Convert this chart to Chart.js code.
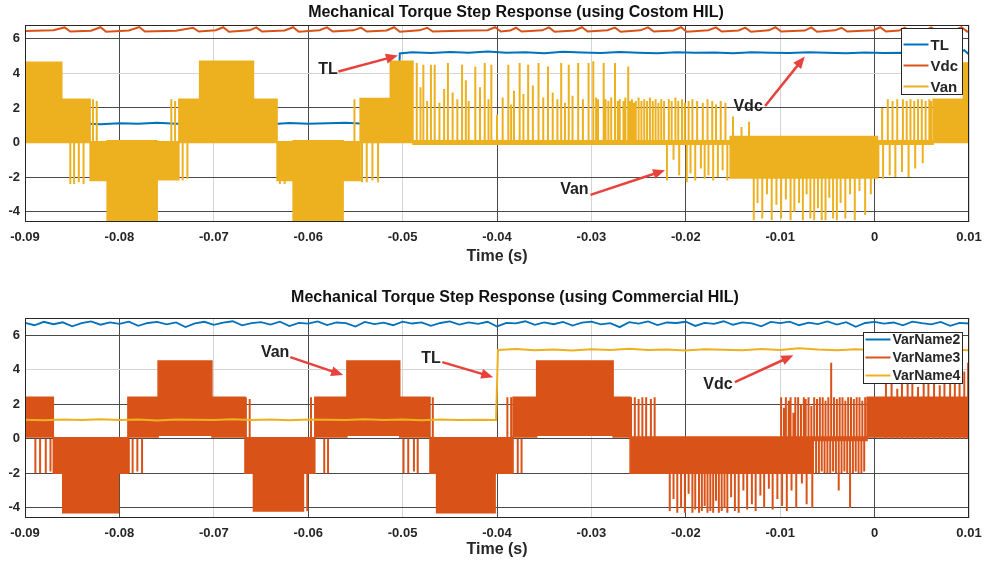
<!DOCTYPE html>
<html>
<head>
<meta charset="utf-8">
<script src="https://cdn.jsdelivr.net/npm/chart.js@4.4.1/dist/chart.umd.min.js"></script>
<style>
  body { margin: 0; background: #fff; }
  #wrap { position: relative; width: 984px; height: 570px; }
  .box { position: absolute; left: 0; width: 984px; }
</style>
</head>
<body>
<div id="wrap">
  <div class="box" style="top:0;height:275px"><canvas id="topChart"></canvas></div>
  <div class="box" style="top:275px;height:295px"><canvas id="bottomChart"></canvas></div>
</div>
<script>
// ---- axes ----
const xTicks = [-0.09, -0.08, -0.07, -0.06, -0.05, -0.04, -0.03, -0.02, -0.01, 0, 0.01];
const xTickLabels = ["-0.09", "-0.08", "-0.07", "-0.06", "-0.05", "-0.04", "-0.03", "-0.02", "-0.01", "0", "0.01"];
const yTicks = [-4, -2, 0, 2, 4, 6];

// ---- top plot (custom HIL) ----
const topNames = ["TL", "Vdc", "Van"];

const tlTime = [-0.090, -0.088, -0.086, -0.084, -0.082, -0.080, -0.078, -0.076, -0.074, -0.072,
  -0.070, -0.068, -0.066, -0.064, -0.062, -0.060, -0.058, -0.056, -0.054, -0.052,
  -0.0505, -0.0503,
  -0.049, -0.047, -0.045, -0.043, -0.041, -0.039, -0.037, -0.035, -0.033, -0.031,
  -0.029, -0.027, -0.025, -0.023, -0.021, -0.019, -0.017, -0.015, -0.013, -0.011,
  -0.009, -0.007, -0.005, -0.003, -0.001, 0.001, 0.003, 0.005, 0.007, 0.009,
  0.0095, 0.010];
const tlValue = [1.10, 1.08, 1.13, 1.10, 1.05, 1.12, 1.09, 1.14, 1.08, 1.11,
  1.07, 1.12, 1.10, 1.06, 1.13, 1.08, 1.11, 1.14, 1.09, 1.11,
  1.10, 5.15,
  5.22, 5.18, 5.24, 5.20, 5.26, 5.19, 5.23, 5.17, 5.25, 5.21,
  5.18, 5.24, 5.20, 5.16, 5.22, 5.19, 5.21, 5.17, 5.23, 5.20,
  5.18, 5.22, 5.19, 5.17, 5.21, 5.18, 5.20, 5.16, 5.21, 5.19,
  5.34, 5.10];

const vdcTime = [-0.0900, -0.0870, -0.0858, -0.0852, -0.0830, -0.0820, -0.0814, -0.0790, -0.0779, -0.0773,
  -0.0740, -0.0722, -0.0716, -0.0698, -0.0690, -0.0684, -0.0662, -0.0655, -0.0649, -0.0625,
  -0.0616, -0.0610, -0.0588, -0.0580, -0.0574, -0.0552, -0.0544, -0.0538, -0.0517, -0.0509,
  -0.0503, -0.0482, -0.0474, -0.0468, -0.0440, -0.0410, -0.0402, -0.0396, -0.0386, -0.0380,
  -0.0374, -0.0352, -0.0345, -0.0339, -0.0318, -0.0310, -0.0304, -0.0283, -0.0275, -0.0269,
  -0.0248, -0.0240, -0.0234, -0.0213, -0.0205, -0.0199, -0.0176, -0.0168, -0.0162, -0.0144,
  -0.0137, -0.0131, -0.0112, -0.0105, -0.0099, -0.0074, -0.0067, -0.0061, -0.0042, -0.0035,
  -0.0029, -0.0001, 0.0006, 0.0012, 0.0026, 0.0032, 0.0038, 0.0054, 0.0060, 0.0066,
  0.0085, 0.0092, 0.0098, 0.0100];
const vdcValue = [6.46, 6.50, 6.66, 6.42, 6.47, 6.67, 6.41, 6.48, 6.68, 6.42,
  6.47, 6.64, 6.42, 6.50, 6.67, 6.41, 6.49, 6.66, 6.42, 6.48,
  6.67, 6.41, 6.50, 6.66, 6.42, 6.49, 6.65, 6.42, 6.48, 6.67,
  6.41, 6.49, 6.64, 6.42, 6.47, 6.50, 6.67, 6.42, 6.48, 6.64,
  6.42, 6.49, 6.66, 6.41, 6.48, 6.67, 6.42, 6.50, 6.65, 6.41,
  6.49, 6.66, 6.42, 6.48, 6.67, 6.41, 6.50, 6.66, 6.42, 6.48,
  6.65, 6.41, 6.49, 6.67, 6.42, 6.48, 6.66, 6.41, 6.49, 6.64,
  6.42, 6.50, 6.67, 6.42, 6.48, 6.65, 6.41, 6.49, 6.66, 6.42,
  6.50, 6.68, 6.42, 6.44];

// Van: dense switching bands (start, end, low, high) + isolated switching spikes
const vanBandStart = [-0.0900, -0.0861, -0.0831, -0.0813, -0.0760, -0.0737, -0.0715, -0.0658, -0.0633, -0.0616,
  -0.0563, -0.0545, -0.0513, -0.0489, -0.0153, 0.0003, 0.0062, 0.0094];
const vanBandEnd = [-0.0861, -0.0831, -0.0813, -0.0760, -0.0737, -0.0715, -0.0658, -0.0633, -0.0616, -0.0563,
  -0.0545, -0.0513, -0.0489, -0.0153, 0.0003, 0.0062, 0.0094, 0.0100];
const vanBandLow = [0.0, 0.0, -2.2, -4.5, -2.15, 0.0, 0.0, 0.0, -2.2, -4.5,
  -2.2, 0.0, 0.0, -0.1, -2.05, -0.1, 0.0, 0.0];
const vanBandHigh = [4.65, 2.5, 0.05, 0.1, 0.05, 2.5, 4.7, 2.5, 0.05, 0.1,
  0.05, 2.55, 4.7, 0.1, 0.35, 0.1, 2.5, 4.6];

const vanSpikeTime = [-0.0852, -0.0848, -0.0843, -0.0838, -0.0828, -0.0824, -0.0745, -0.0741, -0.0733, -0.0728,
  -0.0663, -0.0640, -0.0636, -0.0630, -0.0625, -0.0551, -0.0543, -0.0538, -0.0532, -0.0526,
  -0.0485, -0.0481, -0.0478, -0.0474, -0.0470, -0.0466, -0.0461, -0.0456, -0.0452, -0.0447,
  -0.0442, -0.0437, -0.0433, -0.0430, -0.0423, -0.0418, -0.0413, -0.0409, -0.0406, -0.0400,
  -0.0394, -0.0388, -0.0385, -0.0382, -0.0376, -0.0372, -0.0367, -0.0362, -0.0356, -0.0351,
  -0.0346, -0.0341, -0.0336, -0.0332, -0.0328, -0.0324, -0.0320, -0.0314, -0.0309, -0.0303,
  -0.0298, -0.0295, -0.0293, -0.0287, -0.0285, -0.0282, -0.0279, -0.0275, -0.0272, -0.0270,
  -0.0266, -0.0264, -0.0261, -0.0259, -0.0257, -0.0255, -0.0253, -0.0250, -0.0247, -0.0244,
  -0.0241, -0.0238, -0.0235, -0.0232, -0.0229, -0.0226, -0.0223, -0.0220, -0.0218, -0.0215,
  -0.0213, -0.0211, -0.0208, -0.0207, -0.0204, -0.0201, -0.0199, -0.0197, -0.0195, -0.0193,
  -0.0190, -0.0188, -0.0184, -0.0182, -0.0180, -0.0177, -0.0176, -0.0172, -0.0171, -0.0168,
  -0.0166, -0.0163, -0.0161, -0.0158, -0.0156, -0.0150, -0.0141, -0.0133, -0.0128, -0.0124,
  -0.0119, -0.0114, -0.0109, -0.0104, -0.0099, -0.0094, -0.0089, -0.0085, -0.0080, -0.0076,
  -0.0072, -0.0068, -0.0064, -0.0060, -0.0056, -0.0052, -0.0048, -0.0044, -0.0040, -0.0036,
  -0.0031, -0.0026, -0.0021, -0.0016, -0.0010, -0.0004, 0.0004, 0.0008, 0.0009, 0.0014,
  0.0016, 0.0019, 0.0022, 0.0024, 0.0029, 0.0030, 0.0034, 0.0036, 0.0038, 0.0042,
  0.0043, 0.0046, 0.0050, 0.0051, 0.0054, 0.0058, 0.0060];
const vanSpikeValue = [-2.4, -2.4, -2.3, -2.4, 2.5, 2.4, 2.5, 2.4, -2.2, -2.1,
  4.6, 2.5, 2.4, -2.4, -2.4, 2.5, -2.3, -2.3, -2.2, -2.3,
  4.6, 3.2, 4.5, 2.4, 4.5, 4.5, 2.3, 3.1, 4.6, 2.9,
  2.5, 4.5, 3.6, 2.4, 4.4, 3.2, 4.6, 2.5, 4.5, 1.6,
  2.6, 4.5, 2.2, 3.0, 4.6, 2.8, 4.5, 3.3, 4.6, 2.6,
  4.4, 2.9, 2.5, 4.6, 2.3, 4.5, 2.7, 4.6, 2.5, 4.6,
  4.7, 2.6, 2.5, 4.6, 2.5, 2.4, 2.6, 4.6, 2.4, 2.5,
  2.4, 2.6, 4.4, 2.4, 2.5, 2.3, 2.4, 2.6, 2.4, 2.5,
  2.4, 2.6, 2.4, 2.5, 2.3, 2.5, 2.4, -2.2, 2.5, 2.4,
  -1.0, 2.6, 2.4, -1.9, 2.5, 2.3, -2.3, 2.4, -1.8, 2.5,
  -2.2, 2.4, -1.5, 2.3, -2.1, 2.5, -1.9, 2.4, -2.2, 2.2,
  -2.0, 2.4, -1.6, 2.3, -2.2, 1.5, 0.9, 1.2, -4.5, -3.5,
  -4.4, -3.0, -4.5, -3.6, -4.4, -3.3, -4.5, -4.0, -3.5, -4.5,
  -3.0, -4.4, -4.5, -3.8, -4.5, -4.5, -3.2, -4.4, -4.5, -3.5,
  -4.4, -3.0, -4.5, -2.8, -4.2, -3.0, -2.0, 2.0, -2.1, 2.5,
  -1.9, 2.4, -2.0, 2.5, -1.7, 2.5, 2.4, -2.0, 2.5, 2.4,
  -1.5, 2.5, 2.5, -1.2, 2.4, 2.5, 2.4];

// ---- bottom plot (commercial HIL) ----
const bottomNames = ["VarName2", "VarName3", "VarName4"];

const sampleTime = [-0.090, -0.089, -0.088, -0.087, -0.086, -0.085, -0.084, -0.083, -0.082, -0.081,
  -0.080, -0.079, -0.078, -0.077, -0.076, -0.075, -0.074, -0.073, -0.072, -0.071,
  -0.070, -0.069, -0.068, -0.067, -0.066, -0.065, -0.064, -0.063, -0.062, -0.061,
  -0.060, -0.059, -0.058, -0.057, -0.056, -0.055, -0.054, -0.053, -0.052, -0.051,
  -0.050, -0.049, -0.048, -0.047, -0.046, -0.045, -0.044, -0.043, -0.042, -0.041,
  -0.040, -0.039, -0.038, -0.037, -0.036, -0.035, -0.034, -0.033, -0.032, -0.031,
  -0.030, -0.029, -0.028, -0.027, -0.026, -0.025, -0.024, -0.023, -0.022, -0.021,
  -0.020, -0.019, -0.018, -0.017, -0.016, -0.015, -0.014, -0.013, -0.012, -0.011,
  -0.010, -0.009, -0.008, -0.007, -0.006, -0.005, -0.004, -0.003, -0.002, -0.001,
  0.000, 0.001, 0.002, 0.003, 0.004, 0.005, 0.006, 0.007, 0.008, 0.009, 0.010];
const varName2 = [6.72, 6.58, 6.78, 6.64, 6.75, 6.52, 6.70, 6.80, 6.61, 6.74,
  6.66, 6.79, 6.55, 6.71, 6.77, 6.63, 6.74, 6.48, 6.69, 6.78,
  6.60, 6.73, 6.81, 6.57, 6.70, 6.76, 6.62, 6.79, 6.53, 6.72,
  6.67, 6.80, 6.59, 6.74, 6.70, 6.50, 6.77, 6.65, 6.73, 6.58,
  6.79, 6.68, 6.75, 6.55, 6.71, 6.80, 6.62, 6.74, 6.66, 6.78,
  6.51, 6.72, 6.69, 6.81, 6.60, 6.75, 6.64, 6.77, 6.56, 6.73,
  6.79, 6.63, 6.70, 6.47, 6.76, 6.68, 6.80, 6.59, 6.74, 6.71,
  6.78, 6.54, 6.72, 6.66, 6.81, 6.61, 6.75, 6.69, 6.52, 6.77,
  6.70, 6.79, 6.58, 6.73, 6.65, 6.80, 6.62, 6.76, 6.49, 6.71,
  6.78, 6.67, 6.74, 6.57, 6.79, 6.70, 6.63, 6.77, 6.55, 6.72, 6.68];

const var4Time = [-0.090, -0.088, -0.086, -0.084, -0.082, -0.080, -0.078, -0.076, -0.074, -0.072,
  -0.070, -0.068, -0.066, -0.064, -0.062, -0.060, -0.058, -0.056, -0.054, -0.052,
  -0.050, -0.048, -0.046, -0.044, -0.042, -0.0401, -0.0399, -0.038, -0.036, -0.034,
  -0.032, -0.030, -0.028, -0.026, -0.024, -0.022, -0.020, -0.018, -0.016, -0.014,
  -0.012, -0.010, -0.008, -0.006, -0.004, -0.002, 0.000, 0.002, 0.004, 0.006, 0.008, 0.010];
const varName4 = [1.10, 1.07, 1.12, 1.09, 1.13, 1.08, 1.11, 1.06, 1.12, 1.10,
  1.08, 1.13, 1.09, 1.11, 1.07, 1.12, 1.10, 1.08, 1.13, 1.09,
  1.11, 1.07, 1.12, 1.09, 1.10, 1.08, 5.15, 5.20, 5.13, 5.18,
  5.12, 5.19, 5.15, 5.21, 5.14, 5.17, 5.12, 5.19, 5.16, 5.13,
  5.20, 5.15, 5.24, 5.17, 5.13, 5.19, 5.15, 5.12, 5.18, 5.14, 5.17, 5.13];

const var3BandStart = [-0.0900, -0.0870, -0.0860, -0.0801, -0.0791, -0.0759, -0.0702, -0.0667, -0.0658, -0.0605,
  -0.0593, -0.0559, -0.0503, -0.0471, -0.0464, -0.0402, -0.0383, -0.0358, -0.0277, -0.0259,
  -0.0065, -0.0008];
const var3BandEnd = [-0.0870, -0.0860, -0.0801, -0.0791, -0.0759, -0.0702, -0.0667, -0.0658, -0.0605, -0.0593,
  -0.0559, -0.0503, -0.0471, -0.0464, -0.0402, -0.0383, -0.0358, -0.0277, -0.0259, -0.0065,
  -0.0008, 0.0100];
const var3BandLow = [0.1, -2.0, -4.3, -2.0, 0.1, 0.2, 0.1, -2.0, -4.2, -2.0,
  0.1, 0.2, 0.1, -2.0, -4.3, -2.0, 0.1, 0.2, 0.1, -2.0,
  -0.1, 0.1];
const var3BandHigh = [2.4, 0.05, 0.05, 0.05, 2.4, 4.5, 2.4, 0.05, 0.05, 0.05,
  2.4, 4.5, 2.4, 0.05, 0.05, 0.05, 2.4, 4.5, 2.4, 0.1,
  0.1, 2.4];

const var3SpikeTime = [-0.0889, -0.0884, -0.0878, -0.0873, -0.0790, -0.0786, -0.0781, -0.0776, -0.0666, -0.0662,
  -0.0601, -0.0597, -0.0583, -0.0579, -0.0499, -0.0494, -0.0488, -0.0484, -0.0468, -0.0389,
  -0.0385, -0.0378, -0.0374, -0.0258, -0.0254, -0.0250, -0.0246, -0.0242, -0.0237, -0.0233,
  -0.0217, -0.0213, -0.0209, -0.0205, -0.0201, -0.0197, -0.0193, -0.0190, -0.0186, -0.0183,
  -0.0180, -0.0177, -0.0174, -0.0171, -0.0168, -0.0165, -0.0162, -0.0159, -0.0156, -0.0152,
  -0.0148, -0.0144, -0.0139, -0.0135, -0.0130, -0.0126, -0.0121, -0.0117, -0.0112, -0.0108,
  -0.0103, -0.0099, -0.0098, -0.0096, -0.0094, -0.0093, -0.0091, -0.0089, -0.0088, -0.0086,
  -0.0084, -0.0083, -0.0081, -0.0078, -0.0077, -0.0075, -0.0073, -0.0072, -0.0070, -0.0067,
  -0.0066, -0.0064, -0.0062, -0.0061, -0.0059, -0.0058, -0.0056, -0.0055, -0.0053, -0.0052,
  -0.0050, -0.0049, -0.0047, -0.0046, -0.0044, -0.0043, -0.0041, -0.0040, -0.0038, -0.0037,
  -0.0035, -0.0034, -0.0032, -0.0031, -0.0029, -0.0028, -0.0026, -0.0025, -0.0023, -0.0022,
  -0.0020, -0.0019, -0.0017, -0.0016, -0.0014, -0.0013, -0.0011, -0.0010, 0.0012, 0.0018,
  0.0024, 0.0029, 0.0035, 0.0040, 0.0046, 0.0052, 0.0057, 0.0063, 0.0069, 0.0074,
  0.0080, 0.0085, 0.0090, 0.0095, 0.0099];
const var3SpikeValue = [-2.0, -2.0, -2.0, -1.9, -2.0, -2.0, -1.9, -2.0, 2.4, 2.3,
  -4.2, 2.4, -2.0, -2.0, -2.0, -2.0, -1.9, -2.0, 2.4, 2.4,
  2.4, -2.0, -2.0, 2.4, 2.4, 2.3, 2.4, 2.4, 2.3, 2.4,
  -4.2, -3.5, -4.3, -4.0, -4.3, -3.2, -4.3, -4.1, -4.3, -4.2,
  -3.9, -4.3, -4.2, -4.3, -3.6, -4.3, -4.2, -4.0, -4.3, -3.4,
  -4.2, -4.3, -3.0, -4.1, -3.8, -4.2, -3.3, -4.0, -2.9, -4.1,
  -3.5, 2.4, -3.9, 1.8, 2.4, -4.2, 2.2, 2.4, -3.0, 1.5,
  2.4, -4.0, 2.4, 2.0, -2.6, 2.4, 2.3, -3.8, 2.4, 1.9,
  -4.0, 2.4, -2.0, 2.3, -2.0, 2.4, -1.9, 2.4, -2.0, 2.2,
  -2.0, 2.4, -2.0, 4.4, -1.9, 2.4, -2.0, 2.3, -3.0, 2.4,
  -2.0, 2.4, -1.9, 2.2, -2.0, 2.4, -4.0, 2.4, -2.0, 2.3,
  -1.9, 2.4, -2.0, 2.4, -2.0, 2.2, -1.9, 2.4, 3.2, 4.4,
  2.9, 4.3, 3.5, 4.4, 3.0, 4.4, 3.8, 4.4, 3.1, 4.3,
  4.4, 3.6, 4.4, 3.9, 4.4];

// ---- helpers ----
const BLUE = "#0072BD", ORANGE = "#D95319", YELLOW = "#EDB120";
const FONT = "'Liberation Sans', Arial, sans-serif";
Chart.defaults.font.family = FONT;

function pairs(time, value) {
  return time.map((t, i) => ({ x: t, y: value[i] }));
}

// upper / lower edge of the dense switching bands
function bandEdge(start, end, level) {
  const pts = [];
  start.forEach((t, i) => pts.push({ x: t, y: level[i] }, { x: end[i], y: level[i] }));
  return pts;
}

// each switching spike is a vertical stroke from 0 to its peak
function spikes(time, value) {
  const pts = [];
  time.forEach((t, i) => pts.push({ x: t, y: 0 }, { x: t, y: value[i] }, { x: t, y: null }));
  return pts;
}

const lineDefaults = { pointRadius: 0, tension: 0, fill: false, spanGaps: false };

// axes box, inset legend, arrow notes and title
const hilDecor = {
  id: "hilDecor",
  afterDatasetsDraw(chart, args, opts) {
    const { ctx, chartArea: a, scales: { x, y } } = chart;
    ctx.save();
    ctx.strokeStyle = "#262626";
    ctx.lineWidth = 1;
    ctx.strokeRect(Math.round(a.left) + 0.5, Math.round(a.top) + 0.5,
      Math.round(a.width) - 1, Math.round(a.height) - 1);

    // legend
    const lg = opts.legend;
    const lx = Math.round(a.right - lg.right - lg.width) + 0.5;
    const ly = Math.round(a.top + lg.top) + 0.5;
    ctx.fillStyle = "#fff";
    ctx.fillRect(lx, ly, lg.width, lg.height);
    ctx.strokeRect(lx, ly, lg.width, lg.height);
    ctx.font = `bold ${lg.size}px ${FONT}`;
    ctx.textBaseline = "middle";
    ctx.textAlign = "left";
    lg.names.forEach((name, i) => {
      const yy = ly + lg.first + i * lg.gap;
      ctx.strokeStyle = lg.colors[i];
      ctx.lineWidth = 2;
      ctx.beginPath();
      ctx.moveTo(lx + 2, yy);
      ctx.lineTo(lx + 2 + lg.sample, yy);
      ctx.stroke();
      ctx.fillStyle = "#262626";
      ctx.fillText(name, lx + lg.sample + 4, yy + 1);
    });

    // arrow notes
    opts.notes.forEach((n) => {
      const tx = x.getPixelForValue(n.tail[0]), ty = y.getPixelForValue(n.tail[1]);
      const hx = x.getPixelForValue(n.head[0]), hy = y.getPixelForValue(n.head[1]);
      const ang = Math.atan2(hy - ty, hx - tx);
      ctx.strokeStyle = "#E8423C";
      ctx.fillStyle = "#E8423C";
      ctx.lineWidth = 2.5;
      ctx.beginPath();
      ctx.moveTo(tx, ty);
      ctx.lineTo(hx - 9 * Math.cos(ang), hy - 9 * Math.sin(ang));
      ctx.stroke();
      ctx.beginPath();
      ctx.moveTo(hx, hy);
      ctx.lineTo(hx - 12 * Math.cos(ang) + 5 * Math.sin(ang), hy - 12 * Math.sin(ang) - 5 * Math.cos(ang));
      ctx.lineTo(hx - 12 * Math.cos(ang) - 5 * Math.sin(ang), hy - 12 * Math.sin(ang) + 5 * Math.cos(ang));
      ctx.closePath();
      ctx.fill();
      ctx.fillStyle = "#222";
      ctx.font = `bold 16px ${FONT}`;
      ctx.textAlign = "center";
      ctx.fillText(n.text, x.getPixelForValue(n.at[0]), y.getPixelForValue(n.at[1]));
    });

    // title
    ctx.fillStyle = "#111";
    ctx.font = `bold 16px ${FONT}`;
    ctx.textAlign = "center";
    ctx.fillText(opts.title, opts.titleX, opts.titleY);
    ctx.restore();
  },
};

function scalesFor(yMax, xHeight, lightY, titlePad) {
  return {
    x: {
      type: "linear",
      min: -0.09,
      max: 0.01,
      afterBuildTicks: (s) => { s.ticks = xTicks.map((v) => ({ value: v })); },
      afterFit: (s) => { s.height = xHeight; s.paddingLeft = 0; s.paddingRight = 0; },
      ticks: {
        padding: 8,
        color: "#262626",
        font: { size: 13, weight: "bold" },
        maxRotation: 0,
        callback: (v, i) => xTickLabels[i],
      },
      grid: {
        drawTicks: false,
        color: (c) => (Math.round(c.tick.value * 100) % 2 === 0 ? "#4a4a4a" : "#d4d4d4"),
      },
      border: { display: false },
      title: {
        display: true,
        text: "Time (s)",
        color: "#262626",
        font: { size: 16, weight: "bold" },
        padding: { top: 0, bottom: titlePad },
      },
    },
    y: {
      min: -4.6,
      max: yMax,
      afterBuildTicks: (s) => { s.ticks = yTicks.map((v) => ({ value: v })); },
      afterFit: (s) => { s.width = 25; s.paddingTop = 0; s.paddingBottom = 0; },
      ticks: { padding: 5, color: "#262626", font: { size: 13, weight: "bold" } },
      grid: {
        drawTicks: false,
        color: (c) => (lightY.includes(c.tick.value) ? "#d4d4d4" : "#4a4a4a"),
      },
      border: { display: false },
    },
  };
}

// ---- top chart ----
new Chart(document.getElementById("topChart"), {
  type: "line",
  data: {
    datasets: [
      { ...lineDefaults, label: "Van spikes", data: spikes(vanSpikeTime, vanSpikeValue), borderColor: YELLOW, borderWidth: 2, order: 0 },
      { ...lineDefaults, label: "Van high", data: bandEdge(vanBandStart, vanBandEnd, vanBandHigh), borderColor: YELLOW, backgroundColor: YELLOW, borderWidth: 1.5, fill: "+1", order: 1 },
      { ...lineDefaults, label: "Van low", data: bandEdge(vanBandStart, vanBandEnd, vanBandLow), borderColor: YELLOW, borderWidth: 1.5, order: 2 },
      { ...lineDefaults, label: "Vdc", data: pairs(vdcTime, vdcValue), borderColor: ORANGE, borderWidth: 2, order: 3 },
      { ...lineDefaults, label: "TL", data: pairs(tlTime, tlValue), borderColor: BLUE, borderWidth: 2, order: 4 },
    ],
  },
  options: {
    responsive: true,
    maintainAspectRatio: false,
    animation: false,
    events: [],
    layout: { padding: { top: 25, right: 15, left: 0, bottom: 0 } },
    scales: scalesFor(6.8, 53, [4, 0], 9),
    plugins: {
      legend: { display: false },
      tooltip: { enabled: false },
      hilDecor: {
        title: "Mechanical Torque Step Response (using Costom HIL)",
        titleX: 516,
        titleY: 13,
        legend: { names: topNames, colors: [BLUE, ORANGE, YELLOW], right: 7, top: 3, width: 61, height: 66, first: 16, gap: 21, sample: 25, size: 15 },
        notes: [
          { text: "TL", at: [-0.0579, 4.2], tail: [-0.0568, 4.11], head: [-0.0505, 5.03] },
          { text: "Vdc", at: [-0.0134, 2.06], tail: [-0.0116, 2.11], head: [-0.0074, 4.97] },
          { text: "Van", at: [-0.0318, -2.75], tail: [-0.0301, -3.03], head: [-0.0222, -1.6] },
        ],
      },
    },
  },
  plugins: [hilDecor],
});

// ---- bottom chart ----
new Chart(document.getElementById("bottomChart"), {
  type: "line",
  data: {
    datasets: [
      { ...lineDefaults, label: "VarName4", data: pairs(var4Time, varName4), borderColor: YELLOW, borderWidth: 2, order: 0 },
      { ...lineDefaults, label: "VarName3 spikes", data: spikes(var3SpikeTime, var3SpikeValue), borderColor: ORANGE, borderWidth: 2, order: 1 },
      { ...lineDefaults, label: "VarName3 high", data: bandEdge(var3BandStart, var3BandEnd, var3BandHigh), borderColor: ORANGE, backgroundColor: ORANGE, borderWidth: 1.5, fill: "+1", order: 2 },
      { ...lineDefaults, label: "VarName3 low", data: bandEdge(var3BandStart, var3BandEnd, var3BandLow), borderColor: ORANGE, borderWidth: 1.5, order: 3 },
      { ...lineDefaults, label: "VarName2", data: pairs(sampleTime, varName2), borderColor: BLUE, borderWidth: 1.8, order: 4 },
    ],
  },
  options: {
    responsive: true,
    maintainAspectRatio: false,
    animation: false,
    events: [],
    layout: { padding: { top: 43, right: 15, left: 0, bottom: 0 } },
    scales: scalesFor(7.0, 52, [4], 11),
    plugins: {
      legend: { display: false },
      tooltip: { enabled: false },
      hilDecor: {
        title: "Mechanical Torque Step Response (using Commercial HIL)",
        titleX: 515,
        titleY: 23,
        legend: { names: bottomNames, colors: [BLUE, ORANGE, YELLOW], right: 7, top: 14, width: 99, height: 51, first: 7, gap: 18, sample: 25, size: 14 },
        notes: [
          { text: "Van", at: [-0.0635, 5.0], tail: [-0.0619, 4.73], head: [-0.0563, 3.69] },
          { text: "TL", at: [-0.0470, 4.66], tail: [-0.0458, 4.44], head: [-0.0404, 3.57] },
          { text: "Vdc", at: [-0.0166, 3.15], tail: [-0.0148, 3.28], head: [-0.0086, 4.84] },
        ],
      },
    },
  },
  plugins: [hilDecor],
});
</script>
</body>
</html>
